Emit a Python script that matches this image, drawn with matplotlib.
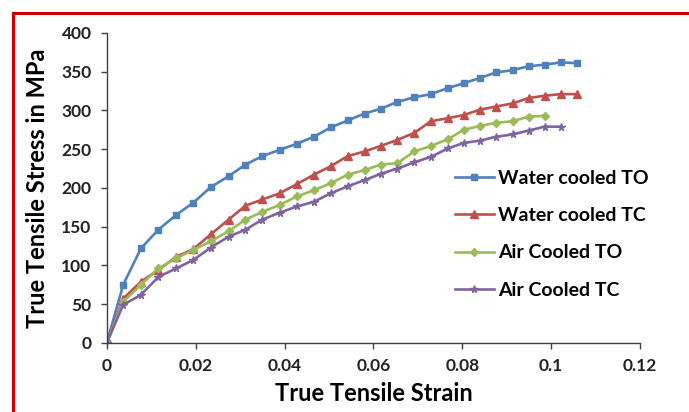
import matplotlib
matplotlib.use("Agg")
import matplotlib.pyplot as plt
from matplotlib.lines import Line2D

plt.rcParams['font.family'] = ['Lato', 'DejaVu Sans']

# data
strain = [0, 0.0037, 0.0077, 0.0116, 0.0156, 0.0195, 0.0234, 0.0274, 0.0312, 0.0350,
          0.0389, 0.0428, 0.0466, 0.0504, 0.0542, 0.0580, 0.0616, 0.0654, 0.0692, 0.0729,
          0.0768, 0.0803, 0.0840, 0.0876, 0.0913, 0.0949, 0.0985, 0.1022, 0.1059]

water_to = [0, 75, 122, 146, 165, 181, 201, 215, 230, 241, 249, 257, 266, 278, 287,
            296, 302, 311, 317, 321, 329, 335, 342, 349, 352, 357, 359, 362, 361]
water_tc = [0, 57, 79, 94, 111, 121, 140, 159, 177, 185, 193, 205, 217, 228, 241,
            247, 254, 262, 271, 286, 290, 294, 301, 305, 309, 316, 319, 321, 321]
air_to = [0, 53, 75, 96, 109, 120, 131, 144, 159, 169, 178, 189, 197, 206, 217,
          223, 230, 232, 247, 254, 263, 275, 280, 284, 286, 292, 293]
air_tc = [0, 49, 62, 85, 96, 107, 123, 137, 146, 159, 168, 176, 182, 193, 202,
          210, 218, 225, 233, 240, 251, 258, 261, 266, 269, 274, 279, 279]

labels = ['Water cooled TO', 'Water cooled TC', 'Air Cooled TO', 'Air Cooled TC']
x_ticks = [0, 0.02, 0.04, 0.06, 0.08, 0.1, 0.12]
x_tick_labels = ['0', '0.02', '0.04', '0.06', '0.08', '0.1', '0.12']
y_ticks = [0, 50, 100, 150, 200, 250, 300, 350, 400]

fig = plt.figure(figsize=(6.89, 4.12), dpi=100)
ax = fig.add_axes([0.155, 0.168, 0.774, 0.752])

ax.plot(strain, water_to, color='#4F81BD', marker='s', ms=5, lw=1.9, label=labels[0])
ax.plot(strain, water_tc, color='#C0504D', marker='^', ms=5.5, lw=1.9, label=labels[1])
ax.plot(strain[:len(air_to)], air_to, color='#9BBB59', marker='D', ms=4, lw=1.9, label=labels[2])
ax.plot(strain[:len(air_tc)], air_tc, color='#8064A2', marker='*', ms=5.5, lw=1.9, label=labels[3])

ax.set_xlim(0, 0.12)
ax.set_ylim(0, 400)
ax.set_xticks(x_ticks)
ax.set_xticklabels(x_tick_labels)
ax.set_yticks(y_ticks)
for s in ['top', 'right']:
    ax.spines[s].set_visible(False)
for s in ['left', 'bottom']:
    ax.spines[s].set_color('#404040')
    ax.spines[s].set_linewidth(1.0)
ax.tick_params(direction='out', length=4, width=1, color='#404040',
               labelsize=12.5, pad=7)
for t in ax.get_xticklabels() + ax.get_yticklabels():
    t.set_fontweight('bold')
    t.set_color('#222222')

ax.set_xlabel('True Tensile Strain', fontsize=17, fontweight='bold', labelpad=6)
ax.set_ylabel('True Tensile Stress in MPa', fontsize=17, fontweight='bold', labelpad=9)

leg = ax.legend(loc='upper left', bbox_to_anchor=(0.653, 0.559), frameon=False,
                prop={'weight': 'bold', 'size': 14}, handlelength=2.0,
                labelspacing=1.05, handletextpad=0.2, borderpad=0, borderaxespad=0)

# red frame on the left and top edges
fig.add_artist(Line2D([0.019, 0.019], [0, 0.968], transform=fig.transFigure,
                      color='#CC0000', lw=2.2))
fig.add_artist(Line2D([0.019, 1.0], [0.968, 0.968], transform=fig.transFigure,
                      color='#CC0000', lw=2.2))

fig.savefig('out.png', dpi=100)
